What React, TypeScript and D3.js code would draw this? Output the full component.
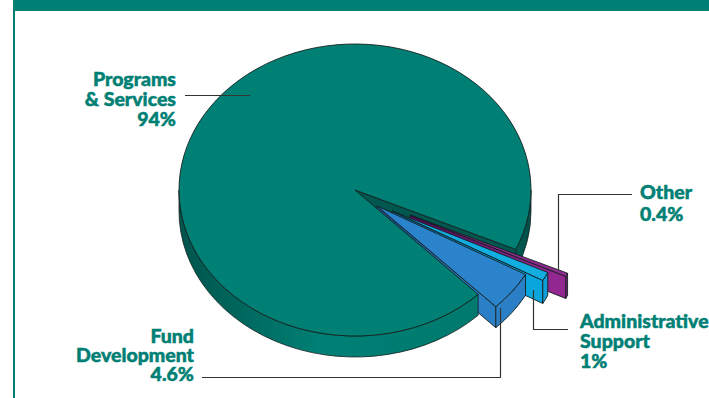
import React from "react";
import * as d3 from "d3";

// Share of spending by area, in percent
const categories = ["Other", "Administrative Support", "Fund Development", "Programs & Services"];
const shares = [0.4, 1, 4.6, 94];

const titleFragments = [
  { text: "y", x: 213 },
  { text: "(", x: 293 },
  { text: ")", x: 413 },
];

const TEAL = "#008075";
const INK = "#14201f";
const FONT = "Lato, 'Open Sans', sans-serif";

const WIDTH = 709;
const HEIGHT = 398;
const toRad = (deg: number) => (deg * Math.PI) / 180;

// Footprint of the disc on the page
const cx = 355;
const cy = 190;
const rx = 176;
const ry = 146;
const depth = 21;

// Slices run clockwise from the angle where the cut-out begins
const pie = d3.pie<number>().sort(null).startAngle(toRad(24)).endAngle(toRad(384));
const arcs = pie(shares);

// How each slice sits relative to the disc: shift, radius factor, depth and shading
const slicePlacement = [
  { dx: 55, dy: 25, k: 0.98, d: 22, top: "#8e2a8e", wallFrom: "#4e0a56", wallTo: "#92278f", side: "#7d1f80" },
  { dx: 37, dy: 21, k: 0.98, d: 23, top: "#12aee2", wallFrom: "#075f96", wallTo: "#0aa5dc", side: "#0f9ed6" },
  { dx: 22, dy: 16, k: 0.965, d: 21, top: "#2b83cb", wallFrom: "#1f4f8c", wallTo: "#2b7fc6", side: "#2b7fc6" },
];

const point = (a: number, ox: number, oy: number, k = 1, lift = 0): [number, number] => [
  ox + rx * k * Math.cos(a),
  oy + ry * k * Math.sin(a) + lift,
];

const arcTo = (a0: number, a1: number, ox: number, oy: number, k = 1, lift = 0) => {
  const [xb, yb] = point(a1, ox, oy, k, lift);
  const large = Math.abs(a1 - a0) > Math.PI ? 1 : 0;
  const sweep = a1 > a0 ? 1 : 0;
  return `A${rx * k},${ry * k} 0 ${large} ${sweep} ${xb},${yb}`;
};

const wedgeTop = (a0: number, a1: number, ox: number, oy: number, k = 1) =>
  `M${ox},${oy}L${point(a0, ox, oy, k).join(",")}${arcTo(a0, a1, ox, oy, k)}Z`;

const rimWall = (a0: number, a1: number, ox: number, oy: number, k: number, d: number) =>
  `M${point(a0, ox, oy, k).join(",")}${arcTo(a0, a1, ox, oy, k)}` +
  `L${point(a1, ox, oy, k, d).join(",")}${arcTo(a1, a0, ox, oy, k, d)}Z`;

const cutWall = (a: number, ox: number, oy: number, k: number, d: number) => {
  const rim = point(a, ox, oy, k);
  return `M${ox},${oy}L${rim.join(",")}L${rim[0]},${rim[1] + d}L${ox},${oy + d}Z`;
};

const line = d3.line();

const labels = [
  { lines: ["Programs", "& Services", "94%"], x: 176, y: 86, step: 20, anchor: "end" },
  { lines: ["Fund", "Development", "4.6%"], x: 194, y: 343, step: 19, anchor: "end" },
  { lines: ["Administrative", "Support", "1%"], x: 580, y: 328, step: 20, anchor: "start" },
  { lines: ["Other", "0.4%"], x: 640, y: 199, step: 22, anchor: "start" },
];

const leaders: [number, number][][] = [
  [[185, 95.5], [250, 95.5]],
  [[202, 377.5], [500.5, 377.5], [500.5, 308]],
  [[533.5, 290], [533.5, 329.5], [568, 329.5]],
  [[558.5, 270], [558.5, 194.5], [632, 194.5]],
];

export default function App() {
  const main = arcs[3];
  return (
    <svg
      width={WIDTH}
      height={HEIGHT}
      viewBox={`0 0 ${WIDTH} ${HEIGHT}`}
      style={{ position: "absolute", left: 0, top: 0, background: "#fff" }}
    >
      <defs>
        <linearGradient id="discSide" x1={cx - rx} x2={cx + rx} y1="0" y2="0" gradientUnits="userSpaceOnUse">
          <stop offset="0" stopColor="#00544c" />
          <stop offset="0.4" stopColor={TEAL} />
          <stop offset="0.85" stopColor="#00796e" />
          <stop offset="1" stopColor="#004f48" />
        </linearGradient>
        {slicePlacement.map((s, i) => {
          const a = arcs[i];
          const ox = cx + s.dx;
          return (
            <linearGradient
              key={categories[i]}
              id={`wall${i}`}
              gradientUnits="userSpaceOnUse"
              x1={ox}
              x2={point(a.endAngle, ox, 0, s.k)[0]}
              y1="0"
              y2="0"
            >
              <stop offset="0.1" stopColor={s.wallFrom} />
              <stop offset="0.85" stopColor={s.wallTo} />
            </linearGradient>
          );
        })}
      </defs>

      {/* Panel frame */}
      <rect x={13} y={0} width={WIDTH - 13} height={11} fill={TEAL} />
      <rect x={13} y={0} width={2} height={HEIGHT} fill={TEAL} />
      {titleFragments.map((f) => (
        <text key={f.x} x={f.x} y={-4} fill="#fff" fontFamily={FONT} fontWeight={900} fontSize={26}>
          {f.text}
        </text>
      ))}

      {/* Far rim and the dark face of the cut-out */}
      <path d={rimWall(0, arcs[0].startAngle, cx, cy, 1, depth)} fill="url(#discSide)" stroke={INK} strokeWidth={0.8} />
      <path d={cutWall(arcs[0].startAngle, cx, cy, 1, depth)} fill="#00574f" stroke={INK} strokeWidth={0.8} />

      {/* Pulled-out slices, back to front */}
      {slicePlacement.map((s, i) => {
        const a = arcs[i];
        const ox = cx + s.dx;
        const oy = cy + s.dy;
        return (
          <g key={categories[i]} stroke={INK} strokeWidth={0.9} strokeLinejoin="round">
            <path d={cutWall(a.endAngle, ox, oy, s.k, s.d)} fill={`url(#wall${i})`} />
            <path d={rimWall(a.startAngle, a.endAngle, ox, oy, s.k, s.d)} fill={s.side} />
            <path d={wedgeTop(a.startAngle, a.endAngle, ox, oy, s.k)} fill={s.top} />
          </g>
        );
      })}

      {/* Near rim and top of the disc */}
      <path
        d={rimWall(main.startAngle, toRad(180), cx, cy, 1, depth)}
        fill="url(#discSide)"
        stroke={INK}
        strokeWidth={0.8}
      />
      <path d={wedgeTop(main.startAngle, main.endAngle, cx, cy)} fill={TEAL} stroke={INK} strokeWidth={0.9} />

      {/* Leader lines */}
      {leaders.map((pts, i) => (
        <path key={i} d={line(pts) ?? ""} fill="none" stroke="#333" strokeWidth={1.2} />
      ))}

      {/* Labels */}
      {labels.map((l) => (
        <text
          key={l.lines[0]}
          textAnchor={l.anchor as "start" | "end"}
          fill={TEAL}
          stroke={TEAL}
          strokeWidth={0.5}
          fontFamily={FONT}
          fontWeight={900}
          fontSize={19.5}
        >
          {l.lines.map((t, j) => (
            <tspan key={t} x={l.x} y={l.y + j * l.step}>
              {t}
            </tspan>
          ))}
        </text>
      ))}
    </svg>
  );
}
